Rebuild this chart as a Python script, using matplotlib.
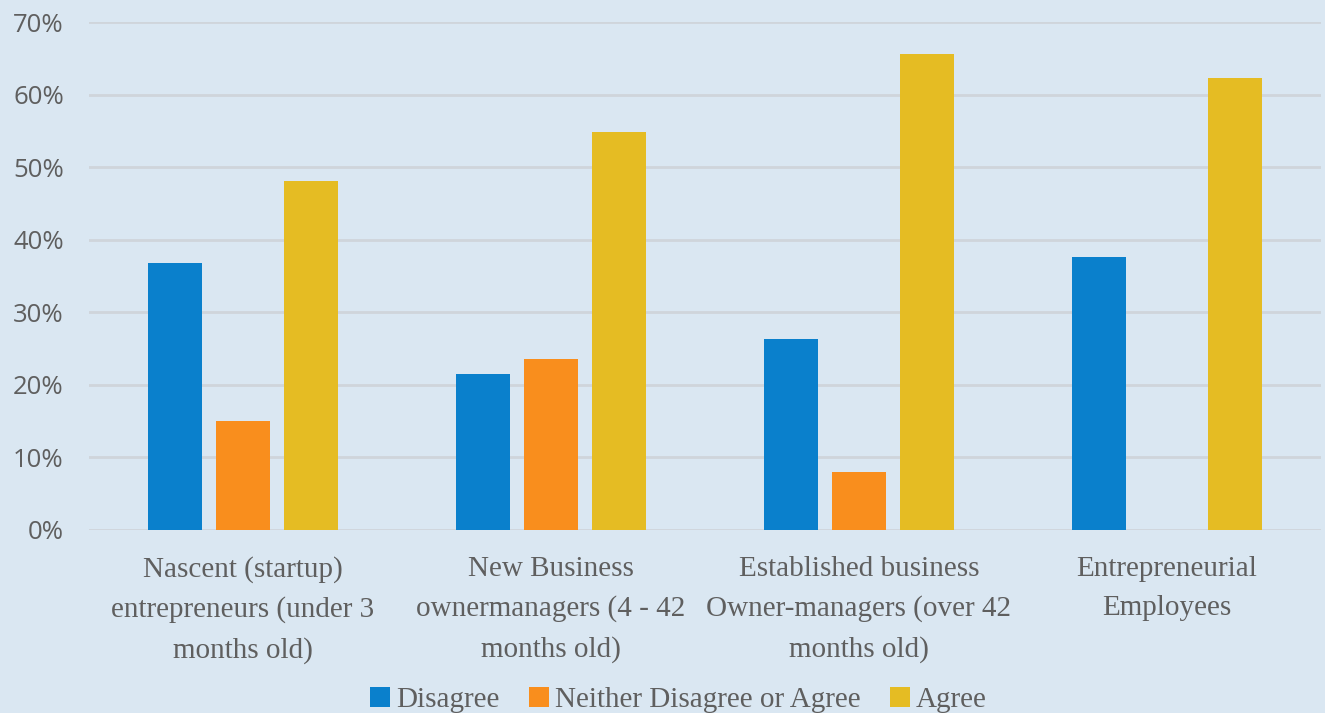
import numpy as np
import matplotlib
matplotlib.use("Agg")
import matplotlib.pyplot as plt
from matplotlib.patches import Patch

# data
categories = [
    "Nascent (startup)\nentrepreneurs (under 3\nmonths old)",
    "New Business\nownermanagers (4 - 42\nmonths old)",
    "Established business\nOwner-managers (over 42\nmonths old)",
    "Entrepreneurial\nEmployees",
]
series_names = ["Disagree", "Neither Disagree or Agree", "Agree"]
disagree = [0.368, 0.215, 0.263, 0.376]
neither = [0.150, 0.236, 0.080, 0.0]
agree = [0.481, 0.548, 0.656, 0.623]
y_ticks = [0, 0.1, 0.2, 0.3, 0.4, 0.5, 0.6, 0.7]

colors = ["#0a80cc", "#f98e1d", "#e5bc23"]
bg = "#dae7f2"
text_color = "#5f5f5f"
serif = ["Liberation Serif", "DejaVu Serif"]

fig = plt.figure(figsize=(13.25, 7.13), dpi=100, facecolor=bg)
ax = fig.add_axes([0.067, 0.257, 0.93, 0.712])
ax.set_facecolor(bg)

x = np.arange(len(categories))
width = 0.175
offset = 0.22
for i, (vals, c) in enumerate(zip([disagree, neither, agree], colors)):
    ax.bar(x + (i - 1) * offset, vals, width, color=c, zorder=3)

ax.set_xlim(-0.5, len(categories) - 0.5)
ax.set_ylim(0, 0.7)
ax.set_yticks(y_ticks)
ax.set_yticklabels([f"{int(round(t * 100))}%" for t in y_ticks],
                   fontsize=18.5, color=text_color, family="Open Sans")
ax.set_xticks(x)
ax.set_xticklabels(categories, fontsize=21, color=text_color,
                   family=serif, linespacing=1.65)
ax.tick_params(axis="y", length=0, pad=18)
ax.tick_params(axis="x", length=0, pad=19)
ax.yaxis.grid(True, color="#cfd5db", linewidth=2, zorder=0)
for s in ax.spines.values():
    s.set_visible(False)

handles = [Patch(facecolor=c, edgecolor="none") for c in colors]
fig.legend(handles, series_names, loc="lower center", bbox_to_anchor=(0.512, -0.037),
           ncol=3, frameon=False, handlelength=0.7, handleheight=0.7,
           handletextpad=0.2, columnspacing=1.0,
           prop={"family": serif, "size": 21},
           labelcolor=text_color)

fig.savefig("out.png", dpi=100, facecolor=bg)
